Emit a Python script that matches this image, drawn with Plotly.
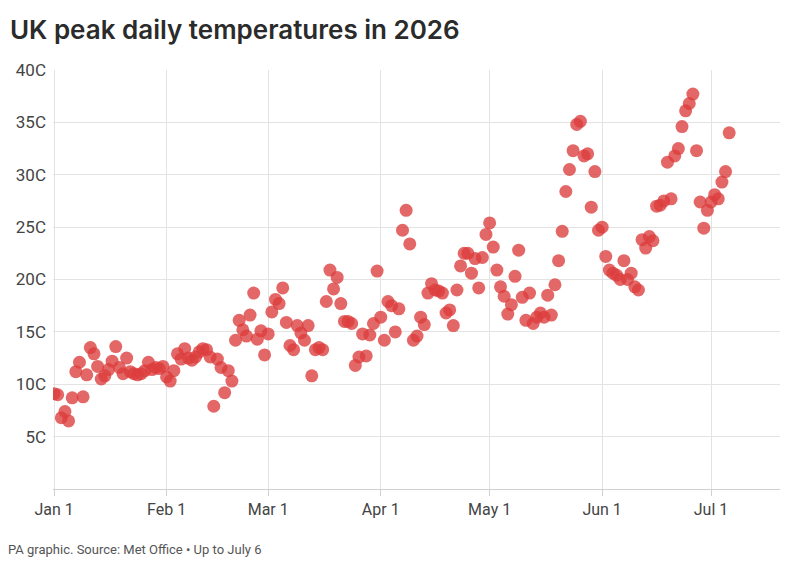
import pandas as pd
import plotly.graph_objects as go

# Daily peak temperatures (C)
jan = [9.1, 9.0, 6.8, 7.4, 6.5, 8.7, 11.2, 12.1, 8.8, 10.9, 13.5, 12.9, 11.7, 10.5, 10.8, 11.4,
       12.2, 13.6, 11.6, 11.0, 12.5, 11.2, 11.0, 10.9, 11.0, 11.3, 12.1, 11.4, 11.6, 11.5, 11.7]
feb = [10.7, 10.3, 11.3, 12.9, 12.4, 13.4, 12.5, 12.3, 12.6, 13.1, 13.4, 13.3, 12.6, 7.9,
       12.4, 11.6, 9.2, 11.3, 10.3, 14.2, 16.1, 15.2, 14.6, 16.6, 18.7, 14.3, 15.1, 12.8]
mar = [14.8, 16.9, 18.1, 17.7, 19.2, 15.9, 13.7, 13.3, 15.6, 14.9, 14.2, 15.6, 10.8, 13.3,
       13.5, 13.3, 17.9, 20.9, 19.1, 20.2, 17.7, 16.0, 16.0, 15.8, 11.8, 12.6, 14.8, 12.7,
       14.7, 15.8, 20.8]
apr = [16.4, 14.2, 17.9, 17.5, 15.0, 17.2, 24.7, 26.6, 23.4, 14.2, 14.6, 16.4, 15.7, 18.7,
       19.6, 19.0, 18.9, 18.7, 16.8, 17.1, 15.6, 19.0, 21.3, 22.5, 22.5, 20.6, 22.0, 19.2,
       22.1, 24.3]
may = [25.4, 23.1, 20.9, 19.3, 18.4, 16.7, 17.6, 20.3, 22.8, 18.3, 16.1, 18.7, 15.8, 16.4,
       16.8, 16.4, 18.5, 16.6, 19.5, 21.8, 24.6, 28.4, 30.5, 32.3, 34.8, 35.1, 31.8, 32.0,
       26.9, 30.3, 24.7]
jun = [25.0, 22.2, 20.9, 20.6, 20.4, 20.0, 21.8, 20.0, 20.6, 19.3, 19.0, 23.8, 23.0, 24.1,
       23.7, 27.0, 27.1, 27.5, 31.2, 27.7, 31.8, 32.5, 34.6, 36.1, 36.8, 37.7, 32.3, 27.4,
       24.9, 26.6]
jul = [27.4, 28.1, 27.7, 29.3, 30.3, 34.0]

temps = jan + feb + mar + apr + may + jun + jul
dates = pd.date_range("2026-01-01", periods=len(temps), freq="D")

month_ticks = ["2026-01-01", "2026-02-01", "2026-03-01", "2026-04-01",
               "2026-05-01", "2026-06-01", "2026-07-01"]
month_labels = ["Jan 1", "Feb 1", "Mar 1", "Apr 1", "May 1", "Jun 1", "Jul 1"]
y_ticks = [5, 10, 15, 20, 25, 30, 35, 40]
y_labels = [f"{v}C" for v in y_ticks]

LABEL_FONT = "Roboto, Arial, sans-serif"

fig = go.Figure(
    go.Scatter(
        x=dates, y=temps, mode="markers",
        marker=dict(size=13, color="#dc3c3c", opacity=0.78, line=dict(width=0)),
        hoverinfo="x+y",
    )
)

fig.update_layout(
    width=794, height=569,
    margin=dict(l=53, r=14, t=70, b=80),
    paper_bgcolor="white", plot_bgcolor="white",
    showlegend=False,
    title=dict(
        text="UK peak daily temperatures in 2026",
        x=0.0125, xanchor="left", y=0.948, yanchor="middle",
        font=dict(family="Inter, Roboto, sans-serif", size=26, color="#2b2b2b", weight=600),
    ),
    xaxis=dict(
        type="date",
        range=["2025-12-31 17:00", "2026-07-20"],
        tickvals=month_ticks, ticktext=month_labels,
        showgrid=True, gridcolor="#e3e3e3", gridwidth=1,
        showline=True, linecolor="#d0d0d0", linewidth=1,
        ticks="outside", ticklen=6, tickcolor="#d0d0d0",
        tickfont=dict(family=LABEL_FONT, size=16, color="#444"),
        zeroline=False, fixedrange=True,
    ),
    yaxis=dict(
        range=[0, 40],
        tickvals=y_ticks, ticktext=y_labels,
        showgrid=True, gridcolor="#e3e3e3", gridwidth=1,
        showline=False, zeroline=False,
        ticks="", ticklabelstandoff=6,
        tickfont=dict(family=LABEL_FONT, size=17, color="#444"),
        fixedrange=True,
    ),
    annotations=[
        dict(
            text="PA graphic. Source: Met Office \u2022 Up to July 6",
            xref="paper", yref="paper", x=-0.064, y=-0.144,
            xanchor="left", yanchor="middle", showarrow=False,
            font=dict(family=LABEL_FONT, size=13, color="#555"),
        )
    ],
)

fig.write_html("out.html")
